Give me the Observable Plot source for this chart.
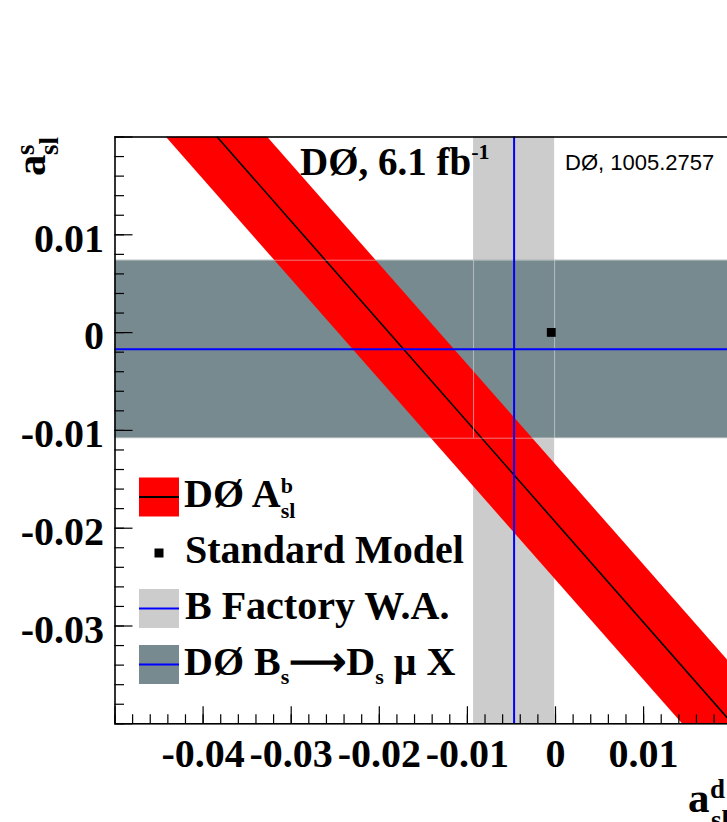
<!DOCTYPE html>
<html><head><meta charset="utf-8">
<script src="https://cdn.jsdelivr.net/npm/d3@7"></script>
<script src="https://cdn.jsdelivr.net/npm/@observablehq/plot@0.6"></script>
<style>
html,body{margin:0;padding:0;overflow:hidden;background:#fff;width:727px;height:822px}
#chart{position:relative;width:727px;height:822px;overflow:hidden}
#chart svg{max-width:none;display:block}
</style></head><body><div id="chart"></div>
<script>
// ---- data ----
const xDomain = [-0.05, 0.02];
const yDomain = [-0.04, 0.02];
const xMajorTicks = [-0.05, -0.04, -0.03, -0.02, -0.01, 0, 0.01, 0.02];
const xLabelTicks = [-0.04, -0.03, -0.02, -0.01, 0, 0.01];
const xTickLabels = ["-0.04", "-0.03", "-0.02", "-0.01", "0", "0.01"];
const yMajorTicks = [-0.04, -0.03, -0.02, -0.01, 0, 0.01, 0.02];
const yLabelTicks = [-0.03, -0.02, -0.01, 0, 0.01];
const yTickLabels = ["-0.03", "-0.02", "-0.01", "0", "0.01"];
const minorStep = 0.002;

// B factory world average of a_sl^d : centre, error
const bFactory = [-0.0047, 0.0046];
// D0 Bs -> Ds mu X measurement of a_sl^s : centre, error
const bsDsMu = [-0.0017, 0.0091];
// Standard Model point (a_sl^d, a_sl^s)
const smPoint = [-0.00048, 0.00002];
// D0 dimuon A_sl^b band: x positions at the two y edges
const dimuonY = [0.02, -0.04];
const dimuonCenterX = [-0.0384, 0.0201];
const dimuonLowX = [-0.0442, 0.0144];
const dimuonHighX = [-0.0327, 0.0259];

// ---- tables built from the arrays ----
const xMinorTicks = d3.range(0, Math.round((xDomain[1]-xDomain[0])/minorStep)+1).map(i => +(xDomain[0] + i*minorStep).toFixed(4));
const yMinorTicks = d3.range(0, Math.round((yDomain[1]-yDomain[0])/minorStep)+1).map(i => +(yDomain[0] + i*minorStep).toFixed(4));
const dimuon = dimuonY.map((y, i) => ({y, lo: dimuonLowX[i], hi: dimuonHighX[i], c: dimuonCenterX[i]}));
const vBand = [{x1: bFactory[0]-bFactory[1], x2: bFactory[0]+bFactory[1], y1: yDomain[0], y2: yDomain[1]}];
const hBand = [{x1: xDomain[0], x2: xDomain[1], y1: bsDsMu[0]-bsDsMu[1], y2: bsDsMu[0]+bsDsMu[1]}];
const sm = [{x: smPoint[0], y: smPoint[1]}];

const serif = "Liberation Serif, Times New Roman, serif";
const W = 760, H = 822;

const plot = Plot.plot({
  width: W, height: H,
  marginLeft: 114.5, marginRight: W - 731.2, marginTop: 136.5, marginBottom: H - 723.3,
  x: {domain: xDomain},
  y: {domain: yDomain},
  style: "max-width:none;background:white;overflow:hidden;",
  marks: [
    Plot.rect(vBand, {x1: "x1", x2: "x2", y1: "y1", y2: "y2", fill: "#cccccc"}),
    Plot.rect(hBand, {x1: "x1", x2: "x2", y1: "y1", y2: "y2", fill: "#778a8f"}),
    Plot.areaX(dimuon, {y: "y", x1: "lo", x2: "hi", fill: "#ff0000", clip: true}),
    Plot.line(dimuon, {x: "c", y: "y", stroke: "black", strokeWidth: 1.6, clip: true}),
    Plot.ruleX([vBand[0].x1, vBand[0].x2], {y1: hBand[0].y1, y2: hBand[0].y2, stroke: "#e0e0e0", strokeOpacity: 0.6, strokeWidth: 1}),
    Plot.ruleY([hBand[0].y1, hBand[0].y2], {stroke: "#dddddd", strokeOpacity: 0.55, strokeWidth: 1}),
    Plot.ruleX([bFactory[0]], {stroke: "#0000ff", strokeWidth: 2}),
    Plot.ruleY([bsDsMu[0]], {stroke: "#0000ff", strokeWidth: 2}),
    Plot.dot(sm, {x: "x", y: "y", symbol: "square", r: 5, fill: "black", stroke: null}),
    // axes: ticks inside the frame
    Plot.axisX({anchor: "bottom", ticks: xMajorTicks, tickSize: -17, fill: "none", stroke: "black", strokeWidth: 1.2, label: null}),
    Plot.axisX({anchor: "bottom", ticks: xMinorTicks, tickSize: -9, fill: "none", stroke: "black", strokeWidth: 1.2, label: null}),
    Plot.axisX({anchor: "bottom", ticks: xLabelTicks, tickSize: 0, tickPadding: 15,
      tickFormat: d => xTickLabels[xLabelTicks.indexOf(d)], fill: "black", fontSize: 40, fontWeight: "bold", fontFamily: serif, label: null}),
    Plot.axisY({anchor: "left", ticks: yMajorTicks, tickSize: -18, fill: "none", stroke: "black", strokeWidth: 1.2, label: null}),
    Plot.axisY({anchor: "left", ticks: yMinorTicks, tickSize: -9.5, fill: "none", stroke: "black", strokeWidth: 1.2, label: null}),
    Plot.axisY({anchor: "left", ticks: yLabelTicks, tickSize: 0, tickPadding: 11, dy: 4,
      tickFormat: d => yTickLabels[yLabelTicks.indexOf(d)], fill: "black", fontSize: 40, fontWeight: "bold", fontFamily: serif, label: null}),
    Plot.frame({stroke: "black", strokeWidth: 1.6})
  ]
});
document.getElementById("chart").appendChild(plot);

// ---- text and legend overlay ----
const svg = d3.select(plot);
const g = svg.append("g").attr("font-family", serif).attr("font-weight", "bold")
  .attr("fill", "black").attr("text-anchor", "start");

// y-axis title (rotated)
const yt = g.append("g").attr("transform", "translate(45,176) rotate(-90)");
yt.append("text").attr("x", 0).attr("y", 0).attr("font-size", 43).text("a");
yt.append("text").attr("x", 21).attr("y", -11).attr("font-size", 27).text("s");
yt.append("text").attr("x", 21).attr("y", 13).attr("font-size", 27).text("sl");

// x-axis title
g.append("text").attr("x", 688).attr("y", 812).attr("font-size", 43).text("a");
g.append("text").attr("x", 710).attr("y", 798).attr("font-size", 27).text("d");
g.append("text").attr("x", 711).attr("y", 829).attr("font-size", 27).text("sl");

// top annotations
const t1 = g.append("text").attr("x", 300).attr("y", 175).attr("font-size", 39);
t1.append("tspan").text("DØ, 6.1 fb");
t1.append("tspan").attr("font-size", 22).attr("dy", -16).text("-1");
g.append("text").attr("x", 565).attr("y", 170).attr("font-size", 22).attr("font-weight", "normal")
  .attr("font-family", "Liberation Sans, Arial, sans-serif").text("DØ, 1005.2757");

// legend
const legendRows = [
  {box: "#ff0000", line: "black", y: 497},
  {marker: true, y: 553},
  {box: "#cccccc", line: "#0000ff", y: 608.5},
  {box: "#778a8f", line: "#0000ff", y: 664.5}
];
legendRows.forEach(r => {
  if (r.box) {
    g.append("rect").attr("x", 139).attr("y", r.y - 19.5).attr("width", 40).attr("height", 39).attr("fill", r.box);
    g.append("line").attr("x1", 139).attr("x2", 179).attr("y1", r.y).attr("y2", r.y).attr("stroke", r.line).attr("stroke-width", 2);
  } else {
    g.append("rect").attr("x", 154.5).attr("y", r.y - 4.5).attr("width", 9).attr("height", 9).attr("fill", "black");
  }
});
const L1 = g.append("text").attr("x", 184).attr("y", 507).attr("font-size", 40);
L1.append("tspan").text("DØ A");
L1.append("tspan").attr("font-size", 22).attr("dy", -14).text("b");
L1.append("tspan").attr("font-size", 22).attr("dx", -12.2).attr("dy", 25).text("sl");
g.append("text").attr("x", 185).attr("y", 563).attr("font-size", 40).text("Standard Model");
g.append("text").attr("x", 185).attr("y", 618.5).attr("font-size", 40).text("B Factory W.A.");
const L4 = g.append("text").attr("x", 184).attr("y", 675).attr("font-size", 40);
L4.append("tspan").text("DØ B");
L4.append("tspan").attr("font-size", 22).attr("dy", 9).text("s");
L4.append("tspan").attr("dy", -9).text("⟶");
L4.append("tspan").text("D");
L4.append("tspan").attr("font-size", 22).attr("dy", 9).text("s");
L4.append("tspan").attr("dy", -9).text(" μ X");
</script>
</body></html>
